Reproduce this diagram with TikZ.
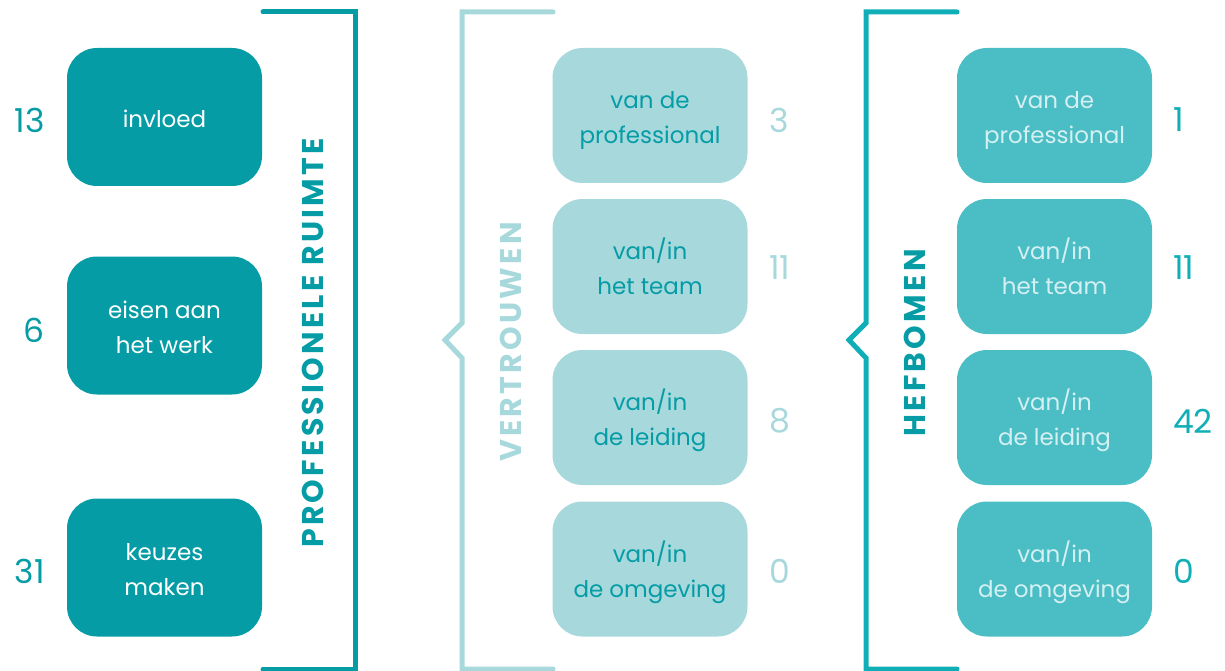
\documentclass[tikz,border=0pt]{standalone}
\usepackage{fontspec}
\setmainfont{Poppins}
\newfontfamily\headfont[LetterSpace=11]{Poppins}
\definecolor{tealdark}{HTML}{059CA6}
\definecolor{teallight}{HTML}{A7D8DC}
\definecolor{tealmid}{HTML}{4BBDC4}
\definecolor{tealbright}{HTML}{10AFB7}
\definecolor{tealpale}{HTML}{D4F0F2}
% centred lines on a fixed 35pt grid, with a little extra head room so the
% text sits slightly below the middle of its box
\newcommand\boxlines[1]{\raisebox{0pt}[\dimexpr\height+7pt\relax][\depth]{\begin{tabular}{@{}c@{}}#1\end{tabular}}}
\begin{document}
\begin{tikzpicture}[x=1pt,y=-1pt,
  box/.style={rounded corners=30pt, inner sep=0pt, align=center,
    minimum width=195pt, font=\fontsize{23}{35}\selectfont},
  leftbox/.style={box, fill=tealdark, text=white, minimum height=138pt},
  midbox/.style={box, fill=teallight, text=tealdark, minimum height=135pt},
  rightbox/.style={box, fill=tealmid, text=tealpale, minimum height=135pt},
  count/.style={inner sep=0pt, font=\fontsize{33}{33}\selectfont},
  bracket/.style={line width=5pt, line cap=round},
  heading/.style={rotate=90, inner sep=0pt, font=\headfont\bfseries\fontsize{30}{30}\selectfont}]
\useasboundingbox (0,0) rectangle (1225,671);

% professionele ruimte
\node[leftbox] (l1) at (164.5,117) {\boxlines{invloed}};
\node[leftbox] (l2) at (164.5,325.5) {\boxlines{eisen aan\\het werk}};
\node[leftbox] (l3) at (164.5,567.5) {\boxlines{keuzes\\maken}};
\node[count, text=tealdark, anchor=east] (n1) at (45,120) {13};
\node[count, text=tealdark, anchor=east] (n2) at (45,330) {6};
\node[count, text=tealdark, anchor=east] (n3) at (45,571) {31};
\draw[bracket, tealdark] (263,12) -- (355,12) -- (355,669) -- (263,669);
\node[heading, text=tealdark] (h1) at (313,343) {PROFESSIONELE RUIMTE};

% vertrouwen
\node[midbox] (m1) at (650,115.5) {\boxlines{van de\\professional}};
\node[midbox] (m2) at (650,266.5) {\boxlines{van/in\\het team}};
\node[midbox] (m3) at (650,417.5) {\boxlines{van/in\\de leiding}};
\node[midbox] (m4) at (650,569) {\boxlines{van/in\\de omgeving}};
\node[count, text=teallight, anchor=west] (v1) at (769,120) {3};
\node[count, text=teallight, anchor=west] (v2) at (769,268) {11};
\node[count, text=teallight, anchor=west] (v3) at (769,421) {8};
\node[count, text=teallight, anchor=west] (v4) at (769,571) {0};
\draw[bracket, teallight] (553,12) -- (462,12) -- (462,323) -- (445,340) -- (462,358) -- (462,669) -- (553,669);
\node[heading, text=teallight] (h2) at (511,342) {VERTROUWEN};

% hefbomen
\node[rightbox] (r1) at (1054.5,115.5) {\boxlines{van de\\professional}};
\node[rightbox] (r2) at (1054.5,266.5) {\boxlines{van/in\\het team}};
\node[rightbox] (r3) at (1054.5,417.5) {\boxlines{van/in\\de leiding}};
\node[rightbox] (r4) at (1054.5,569) {\boxlines{van/in\\de omgeving}};
\node[count, text=tealbright, anchor=west] (w1) at (1173,120) {1};
\node[count, text=tealbright, anchor=west] (w2) at (1173,268) {11};
\node[count, text=tealbright, anchor=west] (w3) at (1173,421) {42};
\node[count, text=tealbright, anchor=west] (w4) at (1173,571) {0};
\draw[bracket, tealbright] (957,12) -- (866,12) -- (866,323) -- (849,340) -- (866,358) -- (866,669) -- (957,669);
\node[heading, text=tealdark] (h3) at (915,343) {HEFBOMEN};
\end{tikzpicture}
\end{document}
